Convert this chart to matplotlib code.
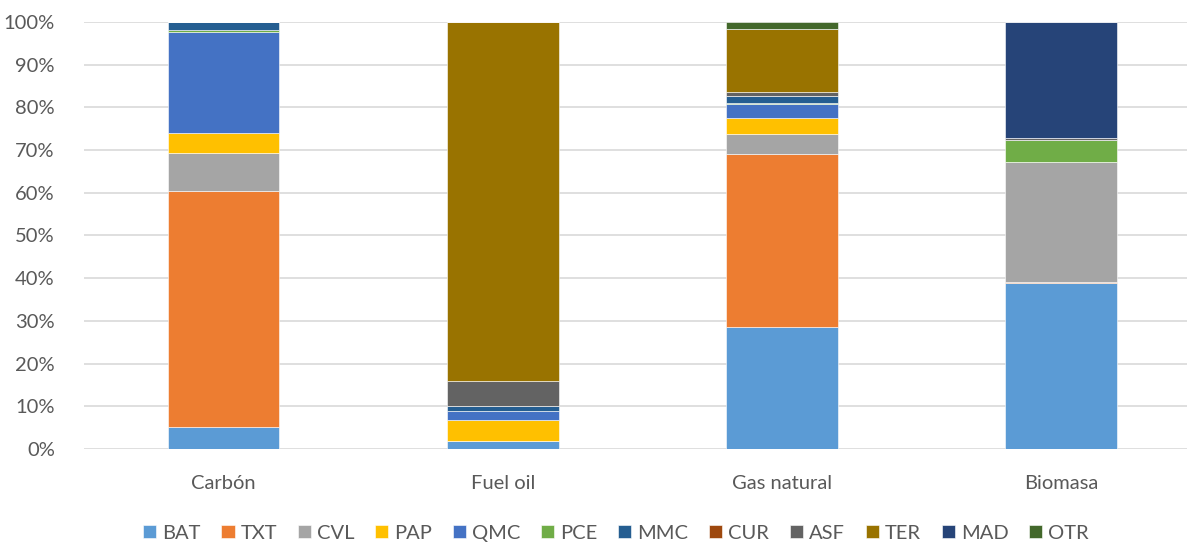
import numpy as np
import matplotlib
matplotlib.use('Agg')
import matplotlib.pyplot as plt
from matplotlib.ticker import PercentFormatter

# energy sources (x categories)
sources = ['Carbón', 'Fuel oil', 'Gas natural', 'Biomasa']

# sector shares (%) per source, stacked bottom to top
sectors = ['BAT', 'TXT', 'CVL', 'PAP', 'QMC', 'PCE', 'MMC', 'CUR', 'ASF', 'TER', 'MAD', 'OTR']
bat = [5.2, 1.8, 28.6, 38.9]
txt = [55.2, 0.1, 40.6, 0.3]
cvl = [8.9, 0.0, 4.5, 28.0]
pap = [4.8, 5.0, 3.8, 0.0]
qmc = [23.5, 1.9, 3.2, 0.0]
pce = [0.5, 0.2, 0.3, 5.2]
mmc = [1.9, 1.1, 1.7, 0.0]
cur = [0.0, 0.0, 0.0, 0.0]
asf = [0.0, 5.8, 1.0, 0.5]
ter = [0.0, 84.1, 14.7, 0.0]
mad = [0.0, 0.0, 0.0, 27.1]
otr = [0.0, 0.0, 1.6, 0.0]

colors = ['#5B9BD5', '#ED7D31', '#A5A5A5', '#FFC000', '#4472C4', '#70AD47',
          '#255E91', '#9E480E', '#636363', '#997300', '#264478', '#43682B']

series = [bat, txt, cvl, pap, qmc, pce, mmc, cur, asf, ter, mad, otr]

plt.rcParams['font.family'] = ['Lato', 'DejaVu Sans']
text_col = '#595959'

fig = plt.figure(figsize=(11.87, 5.44), dpi=100)
ax = fig.add_axes([84 / 1187, 95 / 544, 1 - 84 / 1187, 427 / 544])

x = np.arange(len(sources))
bottom = np.zeros(len(sources))
for name, vals, col in zip(sectors, series, colors):
    vals = np.array(vals, dtype=float)
    ax.bar(x, vals, 0.4, bottom=bottom, color=col, label=name,
           edgecolor='white', linewidth=0.4, zorder=3)
    bottom += vals

ax.set_ylim(0, 100)
ax.set_xlim(-0.5, 3.45)
ax.set_yticks(np.arange(0, 101, 10))
ax.yaxis.set_major_formatter(PercentFormatter(decimals=0))
ax.set_xticks(x)
ax.set_xticklabels(sources)
ax.grid(axis='y', color='#D9D9D9', linewidth=1.2, zorder=0)
for s in ax.spines.values():
    s.set_visible(False)
ax.tick_params(axis='both', length=0, labelsize=14.5, colors=text_col)
ax.tick_params(axis='y', pad=21)
ax.tick_params(axis='x', pad=19)

leg = fig.legend(loc='center', bbox_to_anchor=(0.519, 0.02), ncol=12,
                 frameon=False, fontsize=14.5, handlelength=0.65,
                 handleheight=0.65, handletextpad=0.3, columnspacing=1.03)
for t in leg.get_texts():
    t.set_color(text_col)

fig.savefig('out.png', dpi=100)
